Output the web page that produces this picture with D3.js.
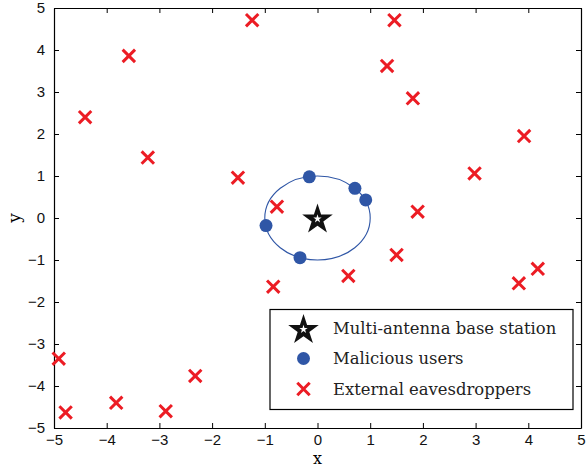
<!DOCTYPE html>
<html>
<head>
<meta charset="utf-8">
<script src="https://cdn.jsdelivr.net/npm/d3@7"></script>
<style>
  html, body { margin: 0; padding: 0; background: #fff; }
  svg { display: block; }
</style>
</head>
<body>
<svg id="chart" width="586" height="468"></svg>
<script>
// Base station position
const baseStationX = [0];
const baseStationY = [0];

// Malicious users on the unit circle around the base station
const maliciousX = [-0.155, 0.71, 0.915, -0.977, -0.332];
const maliciousY = [0.98, 0.707, 0.43, -0.18, -0.945];

// External eavesdroppers scattered over the area
const eveX = [-1.24, -3.58, -4.41, -3.22, -1.51, -0.77, 1.46, 1.32, 1.81, 3.92, 2.98, 1.90,
              -0.84, -4.91, -4.78, -3.82, -2.88, -2.32, 0.585, 1.50, 3.82, 4.18];
const eveY = [4.71, 3.86, 2.40, 1.44, 0.96, 0.27, 4.71, 3.62, 2.85, 1.95, 1.06, 0.15,
              -1.635, -3.35, -4.63, -4.40, -4.60, -3.76, -1.38, -0.88, -1.555, -1.21];

// Radius of the malicious-user ring
const ringRadius = [1];

const xTicks = [-5, -4, -3, -2, -1, 0, 1, 2, 3, 4, 5];
const yTicks = [-5, -4, -3, -2, -1, 0, 1, 2, 3, 4, 5];

const legendLabels = ["Multi-antenna base station", "Malicious users", "External eavesdroppers"];

const RED = "#ec1c24";
const BLUE = "#2f56a6";

const svg = d3.select("#chart");
const plotLeft = 54, plotRight = 581, plotTop = 8, plotBottom = 428;

const x = d3.scaleLinear().domain([-5, 5]).range([plotLeft, plotRight]);
const y = d3.scaleLinear().domain([-5, 5]).range([plotBottom, plotTop]);

const tickFont = "'Liberation Sans', Arial, sans-serif";
const serif = "'DejaVu Serif', serif";

// Axes: ticks pointing inward on every side
function styleAxis(g, hideLabels) {
  g.select(".domain").attr("stroke", "#000").attr("stroke-width", 1.2);
  g.selectAll(".tick line").attr("stroke", "#000").attr("stroke-width", 1);
  g.selectAll(".tick text").attr("font-family", tickFont).attr("font-size", 15).attr("fill", "#111");
  if (hideLabels) g.selectAll(".tick text").remove();
}
const fmt = d => (d < 0 ? "\u2212" + Math.abs(d) : String(d));

svg.append("g").attr("transform", `translate(0,${plotBottom})`)
  .call(d3.axisBottom(x).tickValues(xTicks).tickFormat(fmt).tickSizeInner(-5).tickSizeOuter(0).tickPadding(6))
  .call(g => styleAxis(g, false));
svg.append("g").attr("transform", `translate(0,${plotTop})`)
  .call(d3.axisTop(x).tickValues(xTicks).tickSizeInner(-5).tickSizeOuter(0))
  .call(g => styleAxis(g, true));
svg.append("g").attr("transform", `translate(${plotLeft},0)`)
  .call(d3.axisLeft(y).tickValues(yTicks).tickFormat(fmt).tickSizeInner(-5).tickSizeOuter(0).tickPadding(9))
  .call(g => styleAxis(g, false));
svg.append("g").attr("transform", `translate(${plotRight},0)`)
  .call(d3.axisRight(y).tickValues(yTicks).tickSizeInner(-5).tickSizeOuter(0))
  .call(g => styleAxis(g, true));

// Axis titles
svg.append("text").attr("x", x(0)).attr("y", 464)
  .attr("text-anchor", "middle").attr("font-family", serif).attr("font-size", 16).text("x");
svg.append("text").attr("transform", `translate(20,${y(0)}) rotate(-90)`)
  .attr("text-anchor", "middle").attr("font-family", serif).attr("font-size", 17).text("y");

// Ring around the base station
svg.append("ellipse")
  .attr("cx", x(0)).attr("cy", y(0))
  .attr("rx", x(ringRadius[0]) - x(0)).attr("ry", y(0) - y(ringRadius[0]))
  .attr("fill", "none").attr("stroke", BLUE).attr("stroke-width", 1.1);

// Marker shapes
const crossPath = (s) => `M${-s},${-s}L${s},${s}M${-s},${s}L${s},${-s}`;
const bigStar = d3.symbol(d3.symbolStar, 290)();
const smallStar = d3.symbol(d3.symbolStar, 22)();

function drawStar(g, cx, cy) {
  g.append("path").attr("d", bigStar).attr("transform", `translate(${cx},${cy + 1.5})`).attr("fill", "#111");
  g.append("path").attr("d", smallStar).attr("transform", `translate(${cx},${cy + 0.8})`).attr("fill", "#fff");
}

// Eavesdroppers
svg.append("g").selectAll("path").data(d3.range(eveX.length)).join("path")
  .attr("d", crossPath(6.2))
  .attr("transform", i => `translate(${x(eveX[i])},${y(eveY[i])})`)
  .attr("stroke", RED).attr("stroke-width", 3).attr("fill", "none");

// Malicious users
svg.append("g").selectAll("circle").data(d3.range(maliciousX.length)).join("circle")
  .attr("cx", i => x(maliciousX[i])).attr("cy", i => y(maliciousY[i]))
  .attr("r", 6.5).attr("fill", BLUE);

// Base station
const bs = svg.append("g");
baseStationX.forEach((v, i) => drawStar(bs, x(v), y(baseStationY[i])));

// Legend
const lg = svg.append("g");
lg.append("rect").attr("x", 270).attr("y", 309.5).attr("width", 303).attr("height", 100)
  .attr("fill", "#fff").attr("stroke", "#000").attr("stroke-width", 1.2);
const rowY = [328.5, 358.5, 389];
drawStar(lg, 303.5, rowY[0]);
lg.append("circle").attr("cx", 303.5).attr("cy", rowY[1]).attr("r", 6.5).attr("fill", BLUE);
lg.append("path").attr("d", crossPath(6.2)).attr("transform", `translate(303.5,${rowY[2]})`)
  .attr("stroke", RED).attr("stroke-width", 3).attr("fill", "none");
legendLabels.forEach((t, i) => {
  lg.append("text").attr("x", 333).attr("y", rowY[i] + 5.5)
    .attr("font-family", serif).attr("font-size", 16.4).attr("fill", "#222").text(t);
});
</script>
</body>
</html>
